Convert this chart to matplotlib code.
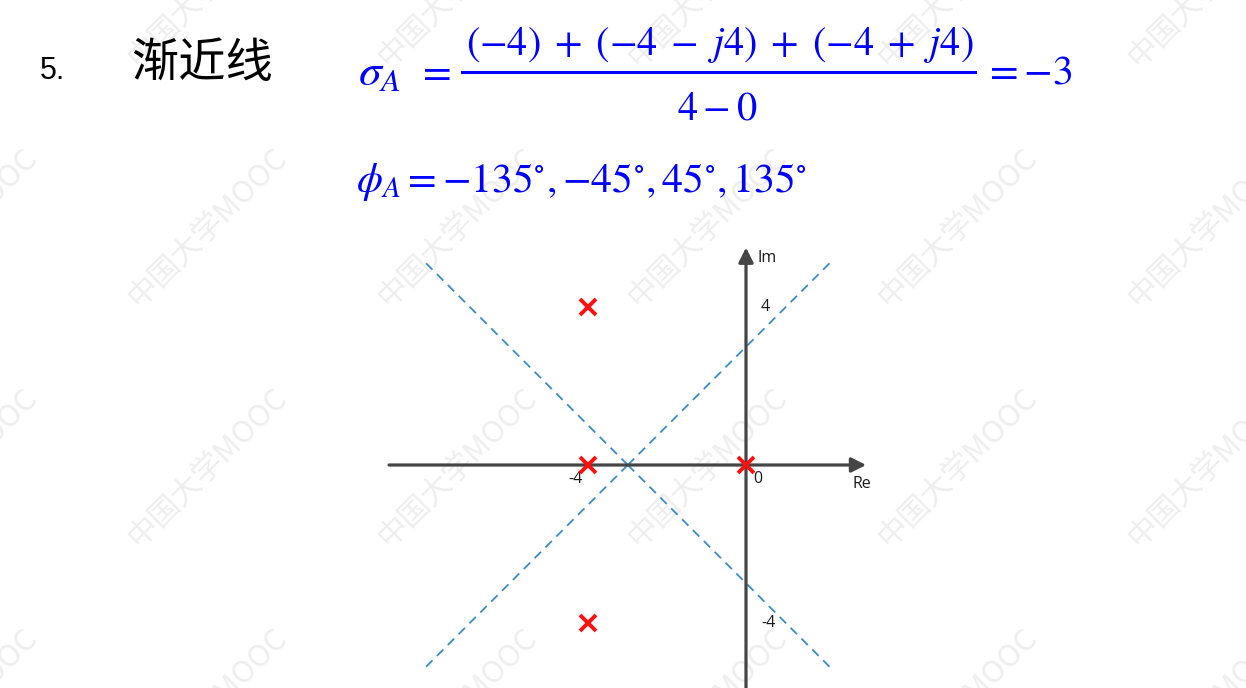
import matplotlib
matplotlib.use("Agg")
import numpy as np
import matplotlib.pyplot as plt

# chart data
poles_re = [-4, -4, 0, -4]
poles_im = [4, 0, 0, -4]
sigma_a = -3
phi_a = [-135, -45, 45, 135]
re_ticks = [-4, 0]
im_ticks = [4, -4]

plt.rcParams["mathtext.fontset"] = "stix"

W, H = 1246, 688
fig = plt.figure(figsize=(W / 100, H / 100), dpi=100)
fig.patch.set_facecolor("white")

def fx(x, y):
    return x / W, 1 - y / H

# watermark grid
for cx in range(-107, W, 250):
    for cy in range(73, H + 250, 240):
        fig.text(*fx(cx, cy), "中国大学MOOC", rotation=45, rotation_mode="anchor",
                 ha="left", va="bottom", fontsize=22, color="#eeeeee",
                 family=["Noto Sans CJK SC", "DejaVu Sans"], zorder=0)

# heading
fig.text(*fx(40, 79), "5.", fontsize=22, family="Liberation Sans", color="black",
         ha="left", va="baseline")
fig.text(*fx(131, 77), "渐近线", fontsize=34, family=["Noto Sans CJK SC"], color="black",
         ha="left", va="baseline")

blue = "#0000ff"
fig.text(*fx(358, 85), r"$\sigma_A$", fontsize=33, color=blue, ha="left", va="baseline")
fig.text(*fx(416, 83), r"$=$", fontsize=30, color=blue, ha="left", va="baseline")
fig.text(*fx(720, 55),
         r"$(-4)\;+\;(-4\;-\;j4)\;+\;(-4\;+\;j4)$", fontsize=29, color=blue,
         ha="center", va="baseline")
fig.add_artist(plt.Line2D([462 / W, 975 / W], [1 - 71.5 / H, 1 - 71.5 / H],
                          color=blue, lw=2.2))
fig.text(*fx(717, 120), r"$4-0$", fontsize=29, color=blue, ha="center", va="baseline")
fig.text(*fx(983, 83), r"$=-%d$" % -sigma_a, fontsize=30, color=blue,
         ha="left", va="baseline")
phi_str = r"$\phi_A=" + ",".join(r"{%d}^{\circ}" % a for a in phi_a) + "$"
fig.text(*fx(356, 192), phi_str, fontsize=30, color=blue, ha="left", va="baseline")

# s-plane
scale = 39.4
ox, oy = 746, 465
ax = fig.add_axes([0, 0, 1, 1])
ax.set_zorder(2)
ax.set_xlim(-ox / scale, (W - ox) / scale)
ax.set_ylim(-(H - oy) / scale, oy / scale)
ax.axis("off")
ax.patch.set_alpha(0)

axis_col = "#454545"
ax.annotate("", xy=(3.05, 0), xytext=(-9.06, 0),
            arrowprops=dict(arrowstyle="-|>", color=axis_col, lw=2.3,
                            mutation_scale=22, shrinkA=0, shrinkB=0))
ax.annotate("", xy=(0, 5.52), xytext=(0, -5.8),
            arrowprops=dict(arrowstyle="-|>", color=axis_col, lw=2.3,
                            mutation_scale=22, shrinkA=0, shrinkB=0))

# asymptotes
L = 7.4
for a in phi_a:
    t = np.radians(a)
    ax.plot([sigma_a, sigma_a + L * np.cos(t)], [0, L * np.sin(t)],
            ls=(0, (5, 3.5)), color="#3a8cc8", lw=1.3)

ax.plot(poles_re, poles_im, "x", color="#ff1010", ms=11, mew=2.8, zorder=5)

lab = dict(fontsize=11.5, family="Open Sans", color="#1a1a1a")
ax.text(0.28, 5.25, "Im", ha="left", va="center", **lab)
ax.text(2.7, -0.28, "Re", ha="left", va="top", **lab)
ax.text(re_ticks[0] - 0.15, -0.15, str(re_ticks[0]), ha="right", va="top", **lab)
ax.text(re_ticks[1] + 0.18, -0.15, str(re_ticks[1]), ha="left", va="top", **lab)
for v in im_ticks:
    ax.text(0.38, v, str(v), ha="left", va="center", **lab)

fig.savefig("out.png", dpi=100)
